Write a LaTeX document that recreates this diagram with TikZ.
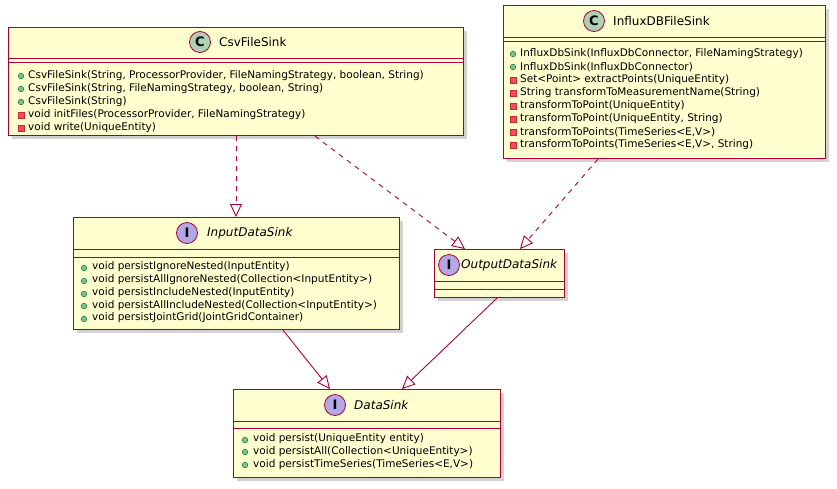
\documentclass[tikz,border=0pt]{standalone}
\usepackage{fontspec}
\setmainfont{DejaVu Sans}
\usetikzlibrary{arrows.meta,calc,shadows}
\definecolor{bfill}{HTML}{FEFECE}
\definecolor{bline}{HTML}{A80036}
\definecolor{cfill}{HTML}{ADD1B2}
\definecolor{ifill}{HTML}{B4A7E5}
\definecolor{pubf}{HTML}{84BE84}
\definecolor{pubd}{HTML}{038048}
\definecolor{prif}{HTML}{F24D5C}
\definecolor{prid}{HTML}{C82930}
\tikzset{
  box/.style={draw=bline,fill=bfill,line width=1.1pt,anchor=north west,inner sep=0,
    drop shadow={shadow xshift=3pt,shadow yshift=-3pt,fill=black!35,opacity=.5}},
  sep/.style={draw=bline,line width=1pt},
  icon/.style={circle,draw=bline,line width=0.8pt,minimum size=21pt,inner sep=0,font=\fontsize{13}{13}\selectfont\bfseries},
  mem/.style={anchor=west,inner sep=0,font=\fontsize{10.5}{12}\selectfont},
  title/.style={anchor=west,inner sep=0,font=\fontsize{12}{14}\selectfont},
  real/.style={draw=bline,line width=0.9pt,-{Triangle[open,length=13pt,width=12pt]}},
  dep/.style={real,dash pattern=on 5pt off 5pt},
}
\newcommand{\pub}[2]{\draw[pubd,fill=pubf,line width=0.5pt] (#1,#2) circle (2.8pt);}
\newcommand{\pri}[2]{\draw[prid,fill=prif,line width=0.5pt] (#1-2.8,#2-2.8) rectangle (#1+2.8,#2+2.8);}
\begin{document}
\begin{tikzpicture}[x=1pt,y=-1pt]
\useasboundingbox (0,0) rectangle (837,488);
% CsvFileSink
\node[box,minimum width=455pt,minimum height=108pt] (csv) at (8,27) {};
\draw[sep] (8,58) -- (463,58) (8,62) -- (463,62);
\node[icon,fill=cfill] (csvi) at (200,42) {C};
\node[title] (csvt) at (219,42) {CsvFileSink};
\pub{21}{76}\node[mem] at (28,76) {CsvFileSink(String, ProcessorProvider, FileNamingStrategy, boolean, String)};
\pub{21}{89}\node[mem] at (28,89) {CsvFileSink(String, FileNamingStrategy, boolean, String)};
\pub{21}{102}\node[mem] at (28,102) {CsvFileSink(String)};
\pri{21}{115}\node[mem] at (28,115) {void initFiles(ProcessorProvider, FileNamingStrategy)};
\pri{21}{128}\node[mem] at (28,128) {void write(UniqueEntity)};
% InfluxDBFileSink
\node[box,minimum width=322pt,minimum height=153pt] (inf) at (503,5) {};
\draw[sep] (503,37) -- (825,37) (503,41) -- (825,41);
\node[icon,fill=cfill] (infi) at (594,21) {C};
\node[title] (inft) at (613,21) {InfluxDBFileSink};
\pub{513}{54}\node[mem] at (520,54) {InfluxDbSink(InfluxDbConnector, FileNamingStrategy)};
\pub{513}{67}\node[mem] at (520,67) {InfluxDbSink(InfluxDbConnector)};
\pri{513}{80}\node[mem] at (520,80) {Set<Point> extractPoints(UniqueEntity)};
\pri{513}{93}\node[mem] at (520,93) {String transformToMeasurementName(String)};
\pri{513}{106}\node[mem] at (520,106) {transformToPoint(UniqueEntity)};
\pri{513}{119}\node[mem] at (520,119) {transformToPoint(UniqueEntity, String)};
\pri{513}{132}\node[mem] at (520,132) {transformToPoints(TimeSeries<E,V>)};
\pri{513}{145}\node[mem] at (520,145) {transformToPoints(TimeSeries<E,V>, String)};
% InputDataSink
\node[box,minimum width=326pt,minimum height=112pt] (ids) at (73,217) {};
\draw[sep] (73,249) -- (399,249) (73,257) -- (399,257);
\node[icon,fill=ifill] (idsi) at (187,233) {I};
\node[title,font=\fontsize{12}{14}\selectfont\itshape] (idst) at (207,233) {InputDataSink};
\pub{84}{268}\node[mem] at (92,267) {void persistIgnoreNested(InputEntity)};
\pub{84}{281}\node[mem] at (92,280) {void persistAllIgnoreNested(Collection<InputEntity>)};
\pub{84}{294}\node[mem] at (92,293) {void persistIncludeNested(InputEntity)};
\pub{84}{306}\node[mem] at (92,306) {void persistAllIncludeNested(Collection<InputEntity>)};
\pub{84}{319}\node[mem] at (92,318) {void persistJointGrid(JointGridContainer)};
% OutputDataSink
\node[box,minimum width=130pt,minimum height=48pt] (ods) at (434,249) {};
\draw[sep] (434,281) -- (564,281) (434,289) -- (564,289);
\node[icon,fill=ifill] (odsi) at (449,265) {I};
\node[title,font=\fontsize{12}{14}\selectfont\itshape] (odst) at (461,265) {OutputDataSink};
% DataSink
\node[box,minimum width=267pt,minimum height=88pt] (ds) at (233,389) {};
\draw[sep] (233,421) -- (500,421) (233,428) -- (500,428);
\node[icon,fill=ifill] (dsi) at (335,405) {I};
\node[title,font=\fontsize{12}{14}\selectfont\itshape] (dst) at (354,405) {DataSink};
\pub{245}{440}\node[mem] at (253,439) {void persist(UniqueEntity entity)};
\pub{245}{452}\node[mem] at (253,452) {void persistAll(Collection<UniqueEntity>)};
\pub{245}{465}\node[mem] at (253,465) {void persistTimeSeries(TimeSeries<E,V>)};
% connectors
\draw[dep] ($(csv.south west)+(228,0)$) -- ($(ids.north west)+(163,0)$);
\draw[dep] ($(csv.south west)+(307,0)$) -- ($(ods.north west)+(31,0)$);
\draw[dep] ($(inf.south west)+(95,0)$) -- ($(ods.north west)+(86,0)$);
\draw[real] ($(ids.south west)+(210,0)$) -- ($(ds.north west)+(97,0)$);
\draw[real] ($(ods.south west)+(63,0)$) -- ($(ds.north west)+(169,0)$);
\end{tikzpicture}
\end{document}
